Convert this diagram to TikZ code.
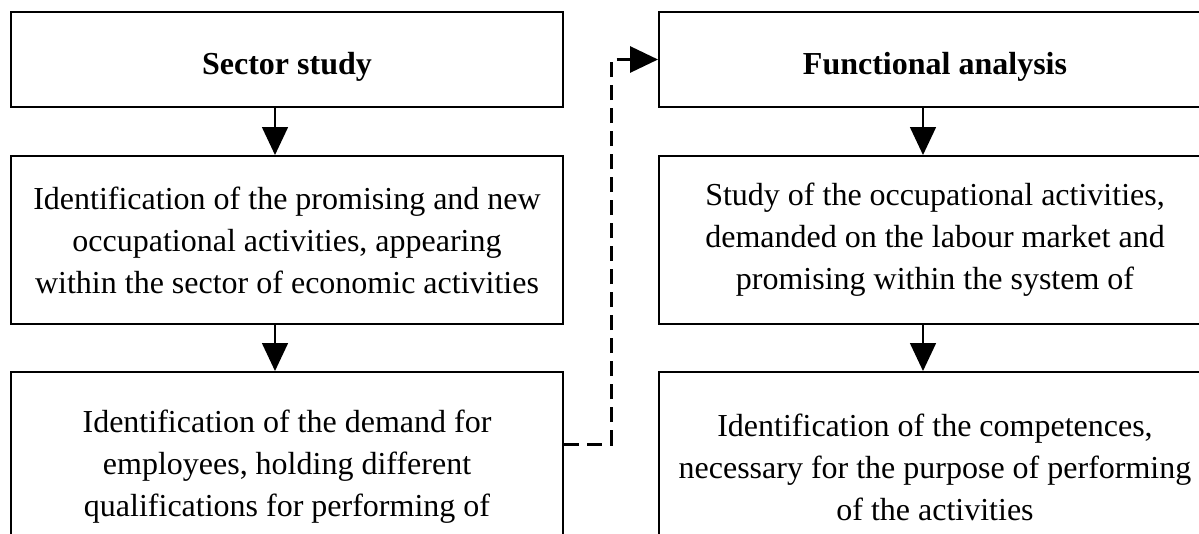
\documentclass[tikz,border=0pt]{standalone}
\usepackage{fontspec}
\setmainfont{Liberation Serif}
\usetikzlibrary{arrows.meta}
\newcommand\boxfont{\fontsize{32}{42}\selectfont}
\begin{document}
\begin{tikzpicture}[x=1pt, y=-1pt,
  every node/.style={font=\boxfont},
  stage/.style={draw, line width=2pt, minimum width=552pt, align=center, inner sep=0pt},
  heading/.style={stage, minimum height=95pt, font=\boxfont\bfseries, text height=30pt, text depth=0pt},
  flow/.style={line width=1.6pt, -{Triangle[width=26pt,length=28pt]}},
  link/.style={line width=3pt, dash pattern=on 15pt off 8pt, -{Triangle[width=26pt,length=28pt]}}]
  \useasboundingbox (0,0) rectangle (1199,533);
  \clip (0,0) rectangle (1199,533);

  % Sector study
  \node[heading] (sector) at (287,59.5) {Sector study};
  \node[stage, minimum height=168pt] (lprom) at (287,240)
    {Identification of the promising and new\\occupational activities, appearing\\within the sector of economic activities};
  \node[stage, minimum height=190pt] (ldemand) at (287,467)
    {Identification of the demand for\\employees, holding different\\qualifications for performing of};

  % Functional analysis
  \node[heading] (func) at (935,59.5) {Functional analysis};
  \node[stage, minimum height=168pt] (rstudy) at (935,240)
    {Study of the occupational activities,\\demanded on the labour market and\\promising within the system of};
  \node[stage, minimum height=190pt] (rcomp) at (935,467)
    {Identification of the competences,\\necessary for the purpose of performing\\of the activities};

  \draw[flow] ([xshift=-12pt]sector.south) -- ([xshift=-12pt]lprom.north);
  \draw[flow] ([xshift=-12pt]lprom.south) -- ([xshift=-12pt]ldemand.north);
  \draw[flow] ([xshift=-12pt]func.south) -- ([xshift=-12pt]rstudy.north);
  \draw[flow] ([xshift=-12pt]rstudy.south) -- ([xshift=-12pt]rcomp.north);

  \draw[link] ([yshift=23pt]ldemand.east) -- ++(47,0) |- (func.west);
\end{tikzpicture}
\end{document}
